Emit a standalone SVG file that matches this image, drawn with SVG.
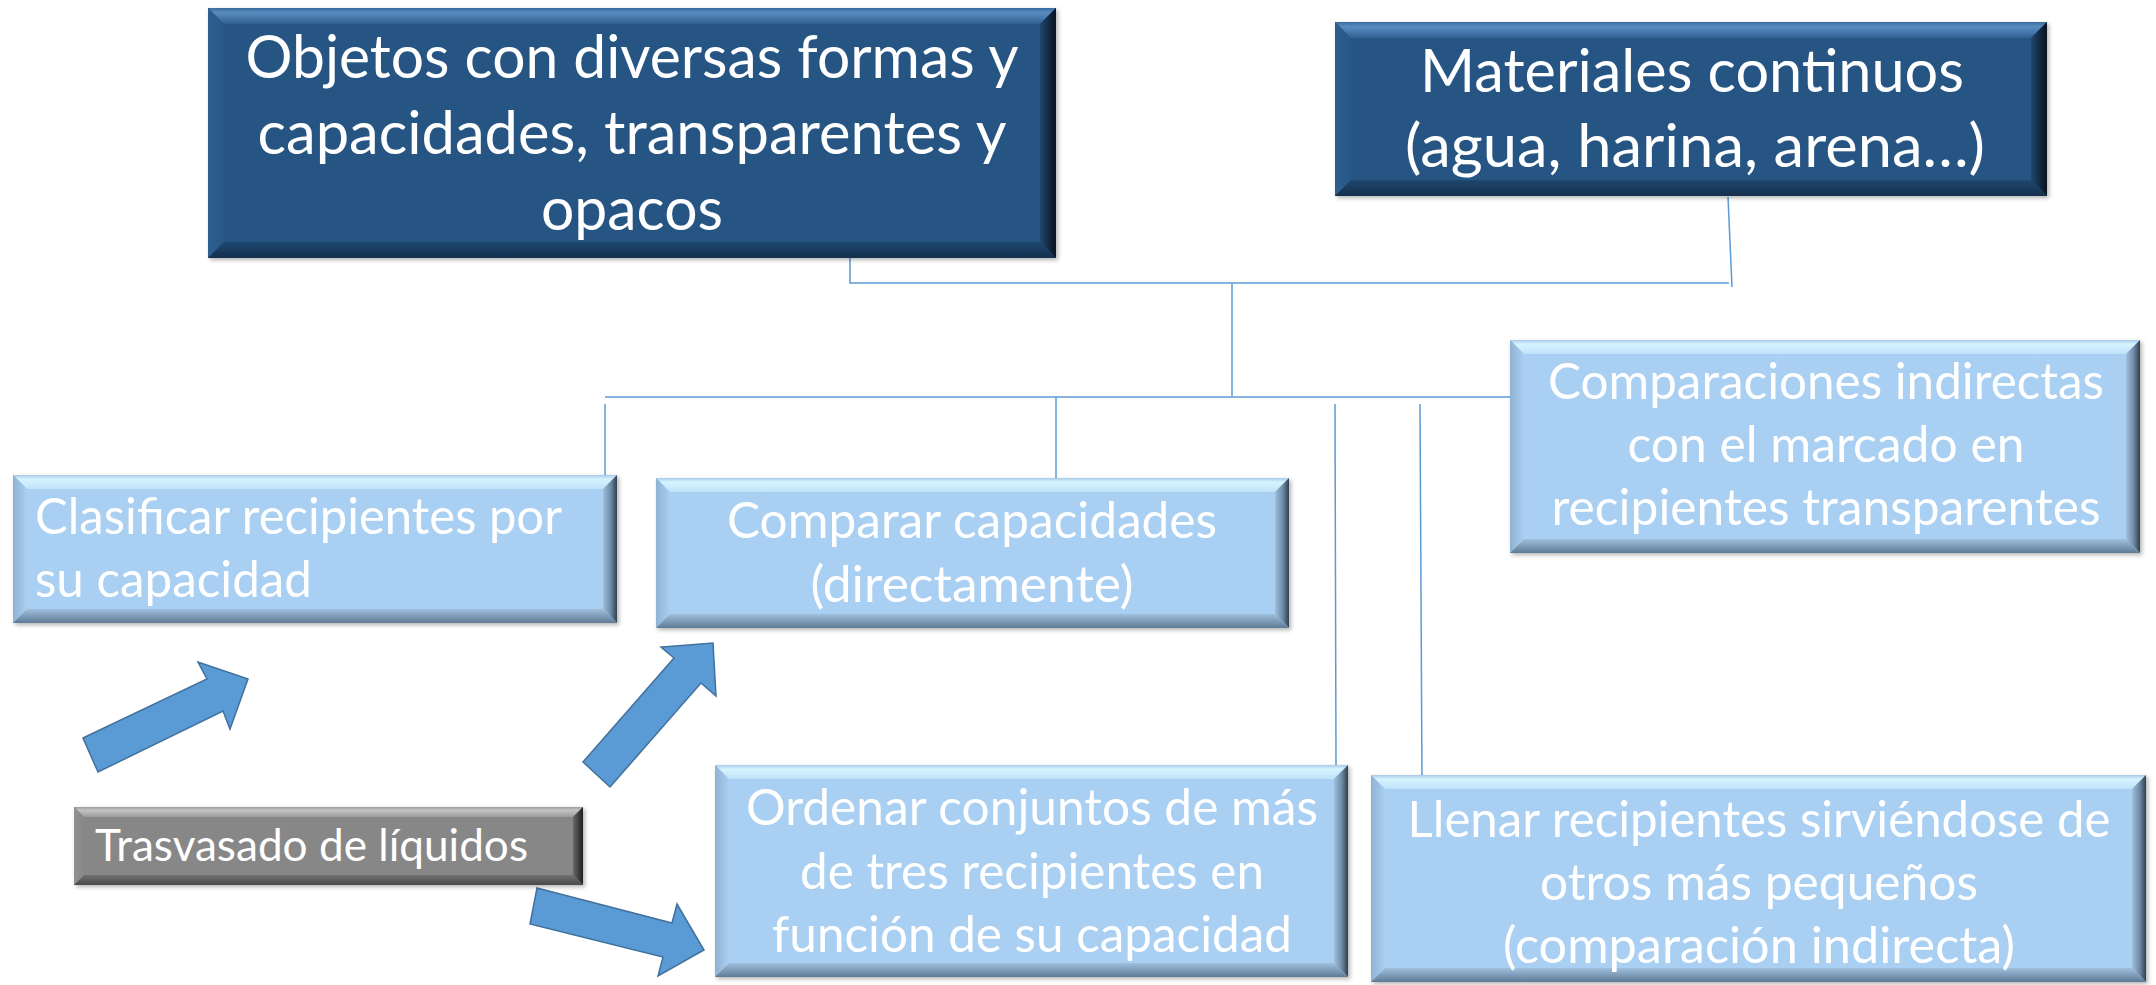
<svg xmlns="http://www.w3.org/2000/svg" width="2156" height="985" viewBox="0 0 2156 985">
<defs>
<linearGradient id="ltTop" x1="0" y1="0" x2="0" y2="1"><stop offset="0" stop-color="#a9cbe9"/><stop offset="0.3" stop-color="#d6f4ff"/><stop offset="1" stop-color="#c0e3f9"/></linearGradient>
<linearGradient id="ltLeft" x1="0" y1="0" x2="1" y2="0"><stop offset="0" stop-color="#8fb2d2"/><stop offset="1" stop-color="#aacff1"/></linearGradient>
<linearGradient id="ltRight" x1="0" y1="0" x2="1" y2="0"><stop offset="0" stop-color="#9fc0de"/><stop offset="0.55" stop-color="#6f8aa5"/><stop offset="1" stop-color="#2f3f4f"/></linearGradient>
<linearGradient id="ltBot" x1="0" y1="0" x2="0" y2="1"><stop offset="0" stop-color="#9fbfdc"/><stop offset="1" stop-color="#5f7b96"/></linearGradient>
<linearGradient id="dkTop" x1="0" y1="0" x2="0" y2="1"><stop offset="0" stop-color="#3b6c9f"/><stop offset="0.3" stop-color="#5a8cc0"/><stop offset="1" stop-color="#2f6092"/></linearGradient>
<linearGradient id="dkLeft" x1="0" y1="0" x2="1" y2="0"><stop offset="0" stop-color="#2e5e8e"/><stop offset="1" stop-color="#285888"/></linearGradient>
<linearGradient id="dkRight" x1="0" y1="0" x2="1" y2="0"><stop offset="0" stop-color="#21476f"/><stop offset="1" stop-color="#07111c"/></linearGradient>
<linearGradient id="dkBot" x1="0" y1="0" x2="0" y2="1"><stop offset="0" stop-color="#1f4770"/><stop offset="1" stop-color="#15304c"/></linearGradient>
<linearGradient id="gyTop" x1="0" y1="0" x2="0" y2="1"><stop offset="0" stop-color="#9a9a9a"/><stop offset="0.3" stop-color="#c4c4c4"/><stop offset="1" stop-color="#9c9c9c"/></linearGradient>
<linearGradient id="gyLeft" x1="0" y1="0" x2="1" y2="0"><stop offset="0" stop-color="#929292"/><stop offset="1" stop-color="#888888"/></linearGradient>
<linearGradient id="gyRight" x1="0" y1="0" x2="1" y2="0"><stop offset="0" stop-color="#6a6a6a"/><stop offset="1" stop-color="#1e1e1e"/></linearGradient>
<linearGradient id="gyBot" x1="0" y1="0" x2="0" y2="1"><stop offset="0" stop-color="#707070"/><stop offset="1" stop-color="#4a4a4a"/></linearGradient>
<filter id="shadow" x="-5%" y="-5%" width="110%" height="115%"><feDropShadow dx="2" dy="2" stdDeviation="2" flood-color="#000" flood-opacity="0.3"/></filter>
</defs>
<style>
.lt{fill:#a9cff2}
.dk{fill:#265583}
.gy{fill:#878787}
.ltT{fill:url(#ltTop)} .ltL{fill:url(#ltLeft)} .ltR{fill:url(#ltRight)} .ltB{fill:url(#ltBot)}
.dkT{fill:url(#dkTop)} .dkL{fill:url(#dkLeft)} .dkR{fill:url(#dkRight)} .dkB{fill:url(#dkBot)}
.gyT{fill:url(#gyTop)} .gyL{fill:url(#gyLeft)} .gyR{fill:url(#gyRight)} .gyB{fill:url(#gyBot)}
.box{filter:url(#shadow)}
.t{font-family:Lato,"Open Sans",sans-serif;fill:#ffffff}
.big{font-size:60px}
.med{font-size:50px}
.sm{font-size:44px}
.c{text-anchor:middle}
.conn{stroke:#5b9bd5;stroke-width:1.5;fill:none}
.arrow{fill:#5b9bd5;stroke:#41719c;stroke-width:1.5;stroke-linejoin:miter}
</style>

<g id="connectors">
<polyline class="conn" points="850,258 850,283 1729,283"/>
<line class="conn" x1="1728" y1="197" x2="1732" y2="287"/>
<line class="conn" x1="1232" y1="283" x2="1232" y2="396"/>
<line class="conn" x1="605" y1="397" x2="1510" y2="397"/>
<line class="conn" x1="605" y1="404" x2="605" y2="476"/>
<line class="conn" x1="1056" y1="397" x2="1056" y2="478"/>
<line class="conn" x1="1335" y1="404" x2="1336" y2="765"/>
<line class="conn" x1="1420" y1="404" x2="1422" y2="784"/>
</g>

<g id="arrows">
<polygon class="arrow" points="83,738 207,679 198,662 248,679 230,729 223,711 98,772"/>
<polygon class="arrow" points="583,762 674,658 661,647 713,643 716,696 701,683 610,787"/>
<polygon class="arrow" points="537,888 672,923 677,904 704,950 658,976 663,957 530,924"/>
</g>

<g id="node-objetos">
<g class="box">
<rect class="dk" x="208" y="8" width="848" height="250"/>
<polygon class="dkT" points="208,8 1056,8 1040,24 224,24"/>
<polygon class="dkL" points="208,8 224,24 224,242 208,258"/>
<polygon class="dkR" points="1056,8 1056,258 1040,242 1040,24"/>
<polygon class="dkB" points="208,258 1056,258 1040,242 224,242"/>
</g>
<text class="t big c" x="632" y="78" textLength="773" lengthAdjust="spacingAndGlyphs">Objetos con diversas formas y</text>
<text class="t big c" x="632" y="154" textLength="749" lengthAdjust="spacingAndGlyphs">capacidades, transparentes y</text>
<text class="t big c" x="632" y="230" textLength="182" lengthAdjust="spacingAndGlyphs">opacos</text>
</g>

<g id="node-materiales">
<g class="box">
<rect class="dk" x="1335" y="22" width="712" height="174"/>
<polygon class="dkT" points="1335,22 2047,22 2031,38 1351,38"/>
<polygon class="dkL" points="1335,22 1351,38 1351,180 1335,196"/>
<polygon class="dkR" points="2047,22 2047,196 2031,180 2031,38"/>
<polygon class="dkB" points="1335,196 2047,196 2031,180 1351,180"/>
</g>
<text class="t big c" x="1692" y="92" textLength="544" lengthAdjust="spacingAndGlyphs">Materiales continuos</text>
<text class="t big c" x="1695" y="167" textLength="580" lengthAdjust="spacingAndGlyphs">(agua, harina, arena…)</text>
</g>

<g id="node-clasificar">
<g class="box">
<rect class="lt" x="13" y="475" width="604" height="148"/>
<polygon class="ltT" points="13,475 617,475 603,489 27,489"/>
<polygon class="ltL" points="13,475 27,489 27,609 13,623"/>
<polygon class="ltR" points="617,475 617,623 603,609 603,489"/>
<polygon class="ltB" points="13,623 617,623 603,609 27,609"/>
</g>
<text class="t med" x="35" y="534" textLength="527" lengthAdjust="spacingAndGlyphs">Clasificar recipientes por</text>
<text class="t med" x="35" y="597" textLength="277" lengthAdjust="spacingAndGlyphs">su capacidad</text>
</g>

<g id="node-comparar">
<g class="box">
<rect class="lt" x="656" y="478" width="633" height="150"/>
<polygon class="ltT" points="656,478 1289,478 1275,492 670,492"/>
<polygon class="ltL" points="656,478 670,492 670,614 656,628"/>
<polygon class="ltR" points="1289,478 1289,628 1275,614 1275,492"/>
<polygon class="ltB" points="656,628 1289,628 1275,614 670,614"/>
</g>
<text class="t med c" x="972" y="538" textLength="490" lengthAdjust="spacingAndGlyphs">Comparar capacidades</text>
<text class="t med c" x="972" y="602" textLength="323" lengthAdjust="spacingAndGlyphs">(directamente)</text>
</g>

<g id="node-comparaciones">
<g class="box">
<rect class="lt" x="1510" y="340" width="630" height="213"/>
<polygon class="ltT" points="1510,340 2140,340 2126,354 1524,354"/>
<polygon class="ltL" points="1510,340 1524,354 1524,539 1510,553"/>
<polygon class="ltR" points="2140,340 2140,553 2126,539 2126,354"/>
<polygon class="ltB" points="1510,553 2140,553 2126,539 1524,539"/>
</g>
<text class="t med c" x="1826" y="399" textLength="556" lengthAdjust="spacingAndGlyphs">Comparaciones indirectas</text>
<text class="t med c" x="1826" y="462" textLength="397" lengthAdjust="spacingAndGlyphs">con el marcado en</text>
<text class="t med c" x="1826" y="525" textLength="549" lengthAdjust="spacingAndGlyphs">recipientes transparentes</text>
</g>

<g id="node-trasvasado">
<g class="box">
<rect class="gy" x="74" y="807" width="509" height="78"/>
<polygon class="gyT" points="74,807 583,807 573,817 84,817"/>
<polygon class="gyL" points="74,807 84,817 84,875 74,885"/>
<polygon class="gyR" points="583,807 583,885 573,875 573,817"/>
<polygon class="gyB" points="74,885 583,885 573,875 84,875"/>
</g>
<text class="t sm" x="95" y="861" textLength="433" lengthAdjust="spacingAndGlyphs">Trasvasado de líquidos</text>
</g>

<g id="node-ordenar">
<g class="box">
<rect class="lt" x="715" y="765" width="633" height="212"/>
<polygon class="ltT" points="715,765 1348,765 1334,779 729,779"/>
<polygon class="ltL" points="715,765 729,779 729,963 715,977"/>
<polygon class="ltR" points="1348,765 1348,977 1334,963 1334,779"/>
<polygon class="ltB" points="715,977 1348,977 1334,963 729,963"/>
</g>
<text class="t med c" x="1032" y="825" textLength="572" lengthAdjust="spacingAndGlyphs">Ordenar conjuntos de más</text>
<text class="t med c" x="1032" y="889" textLength="464" lengthAdjust="spacingAndGlyphs">de tres recipientes en</text>
<text class="t med c" x="1032" y="952" textLength="520" lengthAdjust="spacingAndGlyphs">función de su capacidad</text>
</g>

<g id="node-llenar">
<g class="box">
<rect class="lt" x="1371" y="775" width="775" height="207"/>
<polygon class="ltT" points="1371,775 2146,775 2132,789 1385,789"/>
<polygon class="ltL" points="1371,775 1385,789 1385,968 1371,982"/>
<polygon class="ltR" points="2146,775 2146,982 2132,968 2132,789"/>
<polygon class="ltB" points="1371,982 2146,982 2132,968 1385,968"/>
</g>
<text class="t med c" x="1759" y="837" textLength="703" lengthAdjust="spacingAndGlyphs">Llenar recipientes sirviéndose de</text>
<text class="t med c" x="1759" y="900" textLength="438" lengthAdjust="spacingAndGlyphs">otros más pequeños</text>
<text class="t med c" x="1759" y="963" textLength="512" lengthAdjust="spacingAndGlyphs">(comparación indirecta)</text>
</g>
</svg>
